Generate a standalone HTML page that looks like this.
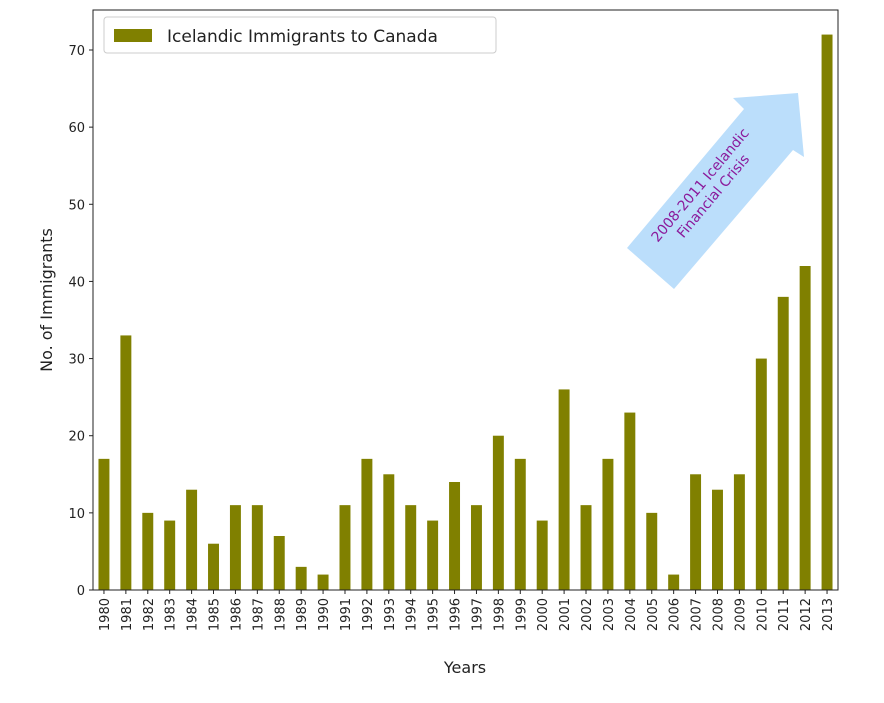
<!DOCTYPE html>
<html><head><meta charset="utf-8"><style>
body{margin:0;background:#fff;font-family:"Liberation Sans","DejaVu Sans",sans-serif}
</style></head><body>
<svg width="884" height="698" font-family="DejaVu Sans, Liberation Sans, sans-serif">
<g id="bars"></g>
<g id="axes"></g>
<polygon points="627,248 744,109 733,98 798,93 804,157 793,150 674,289" fill="#bbdefb"/>
<text transform="translate(706,190) rotate(-50)" text-anchor="middle" fill="#8b1a9b" font-size="14"><tspan x="0" y="-3">2008-2011 Icelandic</tspan><tspan x="0" y="14">Financial Crisis</tspan></text>
<g>
<rect x="104" y="17" width="392" height="36" rx="3" fill="#fff" stroke="#ccc"/>
<rect x="114" y="29" width="38" height="13" fill="#808000"/>
<text x="167" y="42" font-size="17" fill="#222">Icelandic Immigrants to Canada</text>
</g>
<text x="465" y="673" text-anchor="middle" font-size="16" fill="#222">Years</text>
<text transform="translate(52,300) rotate(-90)" text-anchor="middle" font-size="16" fill="#222">No. of Immigrants</text>
</svg>
<script>
const years=[1980,1981,1982,1983,1984,1985,1986,1987,1988,1989,1990,1991,1992,1993,1994,1995,1996,1997,1998,1999,2000,2001,2002,2003,2004,2005,2006,2007,2008,2009,2010,2011,2012,2013];
const counts=[17,33,10,9,13,6,11,11,7,3,2,11,17,15,11,9,14,11,20,17,9,26,11,17,23,10,2,15,13,15,30,38,42,72];
const yTicks=[0,10,20,30,40,50,60,70];
const L=93,R=838,T=10,B=590;
const step=(R-L)/years.length;
const xc=i=>L+step*(i+0.5);
const y=v=>B-v*(B-50)/70;
const NS="http://www.w3.org/2000/svg";
const bars=document.getElementById('bars'),axes=document.getElementById('axes');
function mk(tag,attrs,parent,txt){const e=document.createElementNS(NS,tag);for(const k in attrs)e.setAttribute(k,attrs[k]);if(txt!==undefined)e.textContent=txt;parent.appendChild(e);return e;}
counts.forEach((v,i)=>{
 const r=mk('rect',{x:xc(i)-step*0.25,y:y(v),width:step*0.5,height:B-y(v),fill:'#808000'},bars);
 
 
 mk('line',{x1:xc(i),x2:xc(i),y1:B,y2:B+4,stroke:'#222'},axes);
 const t=mk('text',{transform:`translate(${xc(i)+5},${B+8}) rotate(-90)`,'text-anchor':'end','font-size':13,fill:'#222'},axes,years[i]);
 
 
});
yTicks.forEach(v=>{
 mk('line',{x1:L-4,x2:L,y1:y(v),y2:y(v),stroke:'#222'},axes);
 const t=mk('text',{x:L-8,y:y(v)+5,'text-anchor':'end','font-size':13,fill:'#222'},axes,v);
 
 
});
const f=mk('rect',{x:L,y:T,width:R-L,height:B-T,fill:'none',stroke:'#222','stroke-width':1},axes);


</script>
</body></html>
